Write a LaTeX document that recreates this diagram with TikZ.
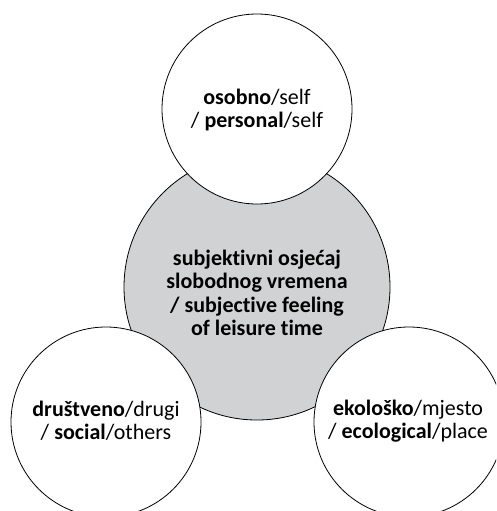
\documentclass[tikz,border=0pt]{standalone}
\usepackage{fontspec}
\setmainfont{Carlito}[RawFeature=-liga]
\definecolor{centergray}{HTML}{D1D2D4}
\begin{document}
\begin{tikzpicture}[x=1pt,y=-1pt,
  ring/.style={circle,draw=black,line width=0.8pt,minimum size=190pt,inner sep=0pt,fill=white},
  core/.style={circle,draw=black,line width=0.8pt,minimum size=266pt,inner sep=0pt,fill=centergray},
  lbl/.style={align=center,font=\fontsize{22}{23.3}\selectfont}]
\clip (0,0) rectangle (496,511);
\useasboundingbox (0,0) rectangle (496,511);
\node[core] (c) at (257,287) {};
\node[ring] (top) at (257,109) {};
\node[ring] (bl) at (106,422) {};
\node[ring] (br) at (409,422) {};
\node[lbl,font=\bfseries\fontsize{22}{23.3}\selectfont] (ct) at (257,293) {subjektivni osjećaj\\slobodnog vremena\\/ subjective feeling\\of leisure time};
\node[lbl] (tt) at (257,110) {\textbf{osobno}/self\\/ \textbf{personal}/self};
\node[lbl] (blt) at (106,421) {\textbf{društveno}/drugi\\/ \textbf{social}/others};
\node[lbl] (brt) at (408,421) {\textbf{ekološko}/mjesto\\/ \textbf{ecological}/place};
\end{tikzpicture}
\end{document}
